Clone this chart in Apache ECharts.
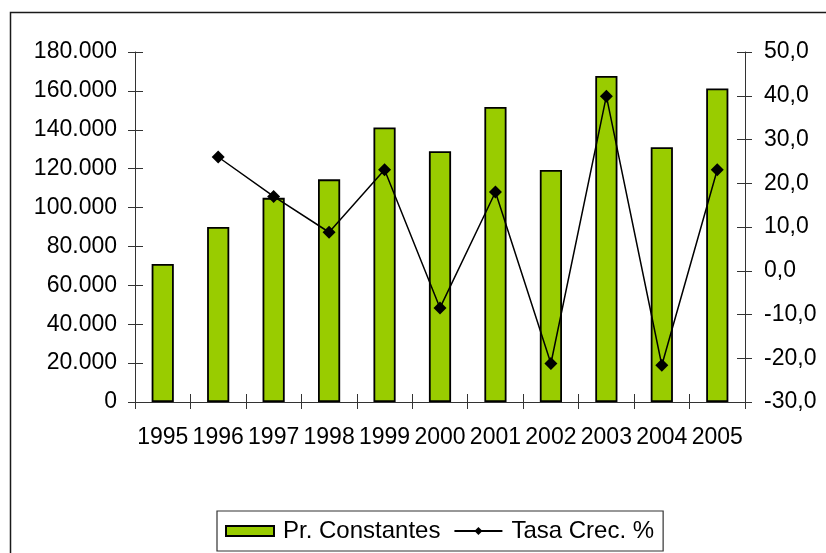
<!DOCTYPE html>
<html>
<head>
<meta charset="utf-8">
<script src="https://cdn.jsdelivr.net/npm/echarts@6/dist/echarts.min.js"></script>
<style>
  html, body { margin: 0; padding: 0; background: #fff; }
  #chart { width: 826px; height: 553px; }
</style>
</head>
<body>
<div id="chart"></div>
<script>
// Years on the category axis
const years = ['1995', '1996', '1997', '1998', '1999', '2000', '2001', '2002', '2003', '2004', '2005'];
// Production at constant prices
const constantes = [71000, 90000, 105000, 114500, 141200, 129000, 151700, 119300, 167700, 131000, 161200];
// Year-on-year growth rate (%)
const tasa = [null, 26.0, 17.0, 8.8, 23.1, -8.5, 18.0, -21.2, 39.9, -21.6, 23.1];

const FONT = 'Liberation Sans, Arial, sans-serif';
const FONT_SIZE = 23;
const AXIS_COLOR = '#333';

const chart = echarts.init(document.getElementById('chart'));

const thousands = v => String(Math.round(v)).replace(/\B(?=(\d{3})+(?!\d))/g, '.');
const decimalComma = v => v.toFixed(1).replace('.', ',');

// Ticks cross the axis line: an outer half on the labelled axis, an inner half on a twin axis
const tickOut = { show: true, inside: false, length: 7, lineStyle: { color: AXIS_COLOR, width: 1 } };
const tickIn = { show: true, inside: true, length: 8, lineStyle: { color: AXIS_COLOR, width: 1 } };

chart.setOption({
  animation: false,
  backgroundColor: '#fff',
  textStyle: { fontFamily: FONT },
  graphic: [{
    type: 'rect',
    shape: { x: 10.5, y: 12.5, width: 840, height: 560 },
    style: { fill: 'none', stroke: '#1a1a1a', lineWidth: 1.5 },
    silent: true,
    z: -1
  }],
  grid: { left: 135, right: 81, top: 52, bottom: 151, containLabel: false },
  legend: {
    left: 217,
    top: 511,
    padding: [8, 9, 8, 8],
    borderColor: '#333',
    borderWidth: 1.2,
    itemWidth: 48,
    itemHeight: 10,
    itemGap: 13,
    textStyle: { fontFamily: FONT, fontSize: 24, color: '#000', padding: [0, 0, 0, 4] },
    data: [{ name: 'Pr. Constantes', icon: 'rect' }, { name: 'Tasa Crec. %' }]
  },
  xAxis: [{
    type: 'category',
    data: years,
    boundaryGap: true,
    axisLine: { show: true, onZero: false, lineStyle: { color: AXIS_COLOR, width: 1 } },
    axisTick: tickOut,
    axisLabel: { color: '#000', fontFamily: FONT, fontSize: FONT_SIZE, margin: 24, interval: 0 },
    splitLine: { show: false }
  }, {
    // twin of the category axis: one unit per category, ticks on the boundaries
    type: 'value',
    position: 'bottom',
    min: 0, max: years.length, interval: 1,
    axisLine: { show: false, onZero: false },
    axisTick: tickIn,
    axisLabel: { show: false },
    splitLine: { show: false }
  }],
  yAxis: [{
    type: 'value',
    position: 'left',
    min: 0, max: 180000, interval: 20000,
    axisLine: { show: true, lineStyle: { color: AXIS_COLOR, width: 1 } },
    axisTick: tickOut,
    axisLabel: { color: '#000', fontFamily: FONT, fontSize: FONT_SIZE, margin: 18, formatter: thousands },
    splitLine: { show: false }
  }, {
    type: 'value',
    position: 'right',
    min: -30, max: 50, interval: 10,
    axisLine: { show: true, lineStyle: { color: AXIS_COLOR, width: 1 } },
    axisTick: tickOut,
    axisLabel: { color: '#000', fontFamily: FONT, fontSize: FONT_SIZE, margin: 19, formatter: decimalComma },
    splitLine: { show: false }
  }, {
    type: 'value',
    position: 'left',
    min: 0, max: 180000, interval: 20000,
    axisLine: { show: false },
    axisTick: tickIn,
    axisLabel: { show: false },
    splitLine: { show: false }
  }, {
    type: 'value',
    position: 'right',
    min: -30, max: 50, interval: 10,
    axisLine: { show: false },
    axisTick: tickIn,
    axisLabel: { show: false },
    splitLine: { show: false }
  }],
  series: [{
    name: 'Pr. Constantes',
    type: 'bar',
    xAxisIndex: 0,
    yAxisIndex: 0,
    data: constantes,
    barWidth: '40%',
    itemStyle: { color: '#99CC00', borderColor: '#000', borderWidth: 1.8 }
  }, {
    name: 'Tasa Crec. %',
    type: 'line',
    xAxisIndex: 0,
    yAxisIndex: 1,
    data: tasa,
    symbol: 'diamond',
    symbolSize: 13,
    showAllSymbol: true,
    connectNulls: false,
    lineStyle: { color: '#000', width: 1.5 },
    itemStyle: { color: '#000' },
    z: 3
  }]
});
</script>
</body>
</html>
